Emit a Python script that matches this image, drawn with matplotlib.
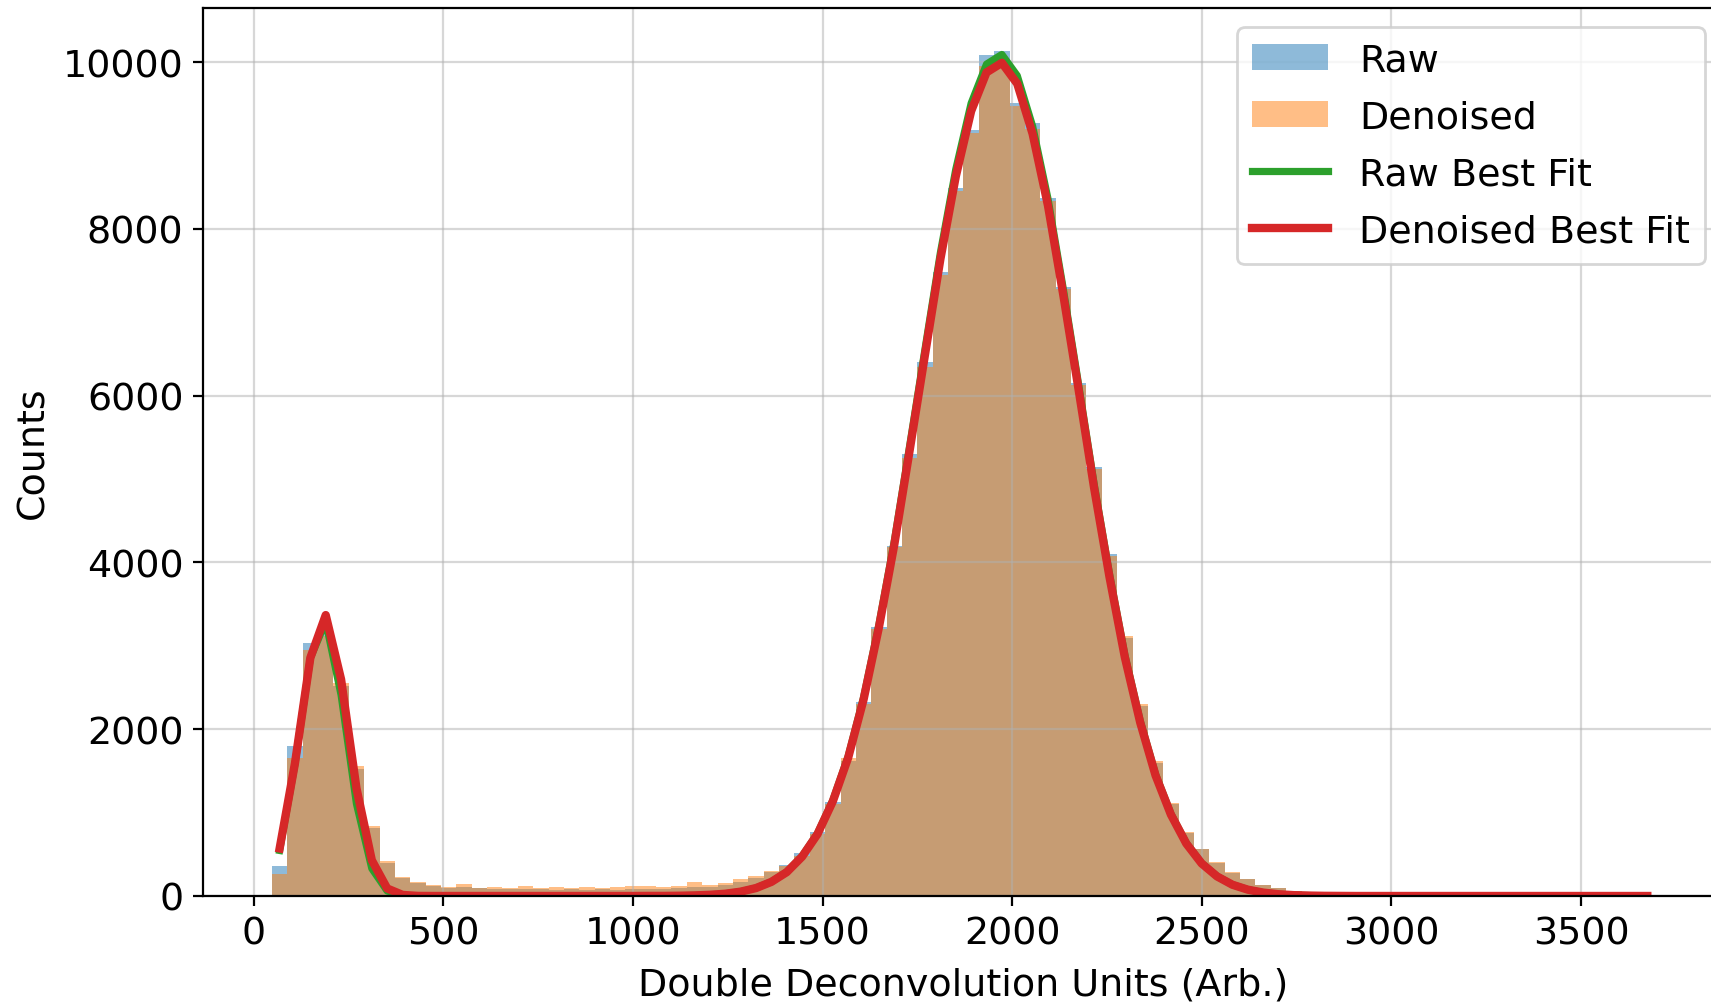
import numpy as np
import matplotlib
matplotlib.use("Agg")
import matplotlib.pyplot as plt

# bin edges of the histogram (90 bins)
bin_lo, bin_hi, n_bins = 48, 3695, 90

raw_counts = [360, 1800, 3030, 3150, 2520, 1520, 820, 400, 210, 150,
              120, 95, 110, 90, 85, 80, 85, 80, 75, 80,
              75, 80, 75, 80, 80, 85, 90, 110, 105, 130,
              170, 220, 290, 370, 510, 770, 1130, 1620, 2330, 3230,
              4200, 5300, 6400, 7480, 8490, 9190, 10090, 10140, 9510, 9270,
              8370, 7300, 6150, 5150, 4100, 3100, 2280, 1600, 1100, 760,
              560, 400, 280, 200, 130, 90, 60, 45, 35, 28,
              22, 18, 15, 14, 12, 12, 10, 10, 9, 9,
              8, 8, 8, 7, 7, 7, 6, 6, 6, 5]

denoised_counts = [260, 1650, 2950, 3120, 2550, 1560, 842, 423, 224, 164,
                   132, 104, 144, 100, 110, 100, 120, 100, 110, 100,
                   105, 100, 110, 115, 120, 110, 120, 170, 130, 150,
                   200, 243, 303, 363, 480, 740, 1100, 1660, 2300, 3200,
                   4180, 5250, 6350, 7450, 8450, 9150, 9950, 10020, 9480, 9200,
                   8340, 7280, 6130, 5120, 4080, 3120, 2300, 1620, 1110, 770,
                   565, 410, 285, 205, 135, 95, 65, 48, 36, 28,
                   22, 18, 15, 14, 12, 12, 10, 10, 9, 9,
                   8, 8, 8, 7, 7, 7, 6, 6, 6, 5]

raw_fit = [546, 1584, 2854, 3291, 2411, 1105, 329, 60, 7, 0,
           0, 0, 0, 0, 0, 0, 0, 0, 0, 0,
           0, 0, 0, 0, 1, 1, 3, 7, 14, 27,
           52, 96, 171, 289, 477, 750, 1147, 1677, 2381, 3256,
           4257, 5400, 6562, 7717, 8716, 9508, 9977, 10093, 9839, 9232,
           8363, 7276, 6126, 4945, 3867, 2894, 2103, 1460, 986, 635,
           394, 237, 136, 77, 41, 21, 10, 5, 2, 1,
           0, 0, 0, 0, 0, 0, 0, 0, 0, 0,
           0, 0, 0, 0, 0, 0, 0, 0, 0, 0]

denoised_fit = [570, 1594, 2857, 3369, 2597, 1292, 428, 90, 13, 1,
                0, 0, 0, 0, 0, 0, 0, 0, 0, 0,
                0, 0, 0, 0, 1, 1, 3, 7, 14, 27,
                52, 95, 169, 286, 472, 742, 1136, 1660, 2357, 3224,
                4215, 5347, 6497, 7641, 8630, 9414, 9878, 9993, 9742, 9141,
                8280, 7204, 6065, 4896, 3829, 2865, 2082, 1446, 976, 629,
                390, 235, 135, 76, 41, 21, 10, 5, 2, 1,
                0, 0, 0, 0, 0, 0, 0, 0, 0, 0,
                0, 0, 0, 0, 0, 0, 0, 0, 0, 0]

edges = np.linspace(bin_lo, bin_hi, n_bins + 1)
centers = (edges[:-1] + edges[1:]) / 2

fig = plt.figure(figsize=(8.555, 5.015), dpi=200)
ax = fig.add_axes([0.1186, 0.1057, 0.889, 0.8853])

ax.hist(centers, bins=edges, weights=raw_counts, alpha=0.5, label='Raw')
ax.hist(centers, bins=edges, weights=denoised_counts, alpha=0.5, label='Denoised')
ax.plot(centers, raw_fit, color='C2', lw=2.6, label='Raw Best Fit')
ax.plot(centers, denoised_fit, color='C3', lw=3, label='Denoised Best Fit')

ax.set_xlim(-134, 3877)
ax.set_ylim(0, 10650)
ax.grid(True, alpha=0.5)
ax.tick_params(labelsize=13.7)
ax.set_xlabel('Double Deconvolution Units (Arb.)', fontsize=13.7, labelpad=5.5)
ax.set_ylabel('Counts', fontsize=13.7)
ax.legend(loc='upper right', fontsize=13.7, labelspacing=0.55)

fig.savefig('out.png', dpi=200)
